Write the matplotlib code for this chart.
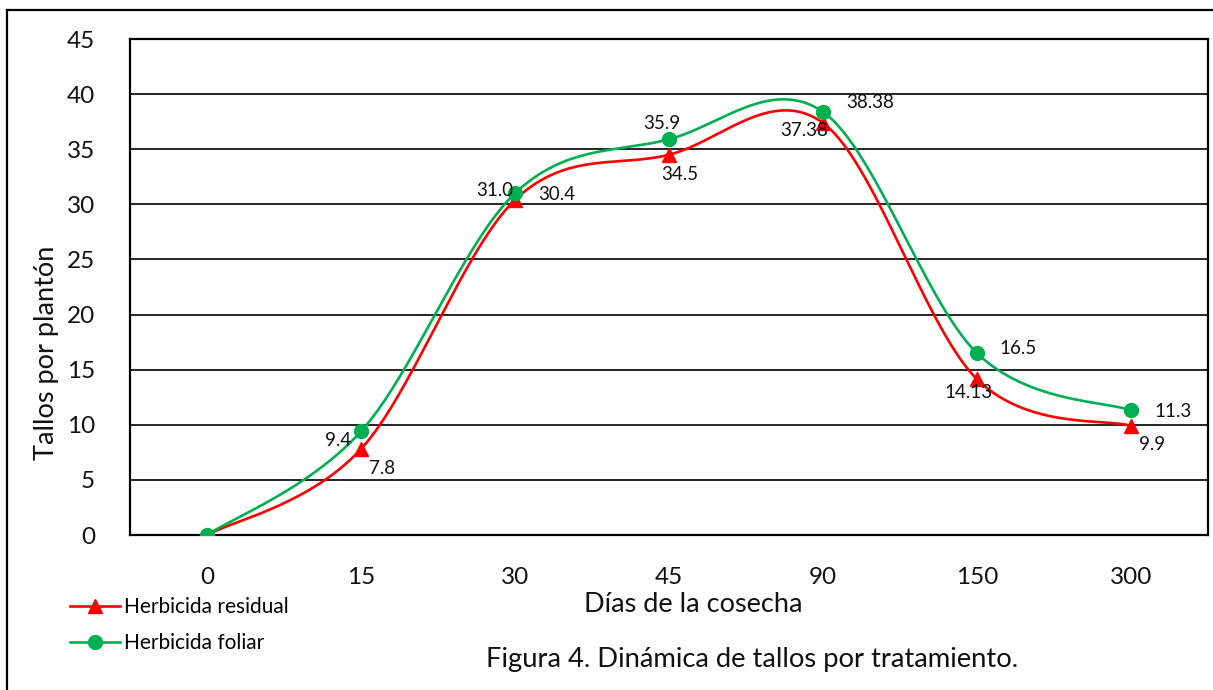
import numpy as np
import matplotlib
matplotlib.use("Agg")
import matplotlib.pyplot as plt
from matplotlib.lines import Line2D

plt.rcParams['font.family'] = ['Lato', 'DejaVu Sans']

categories = ["0", "15", "30", "45", "90", "150", "300"]
residual = [0, 7.8, 30.4, 34.5, 37.38, 14.13, 9.9]
foliar = [0, 9.4, 31.0, 35.9, 38.38, 16.5, 11.3]
residual_labels = ["", "7.8", "30.4", "34.5", "37.38", "14.13", "9.9"]
foliar_labels = ["", "9.4", "31.0", "35.9", "38.38", "16.5", "11.3"]
# label offsets in pixels (dx, dy)
residual_off = [(0, 0), (21, -19), (42, 5), (11, -20), (-19, -8), (-8, -13), (21, -19)]
foliar_off = [(0, 0), (-23, -9), (-20, 3), (-7, 16), (47, 9), (41, 5), (42, -1)]

RED = "#FF0000"
GREEN = "#00B050"


def smooth(xs, ys, n=60):
    xs = np.asarray(xs, float)
    ys = np.asarray(ys, float)
    P = np.column_stack([xs, ys])
    Pext = np.vstack([P[0], P, P[-1]])
    out = []
    t = np.linspace(0, 1, n)[:, None]
    for i in range(len(P) - 1):
        p0 = Pext[i + 1]
        p3 = Pext[i + 2]
        c1 = p0 + (Pext[i + 2] - Pext[i]) / 6.0
        c2 = p3 - (Pext[i + 3] - Pext[i + 1]) / 6.0
        seg = ((1 - t) ** 3) * p0 + 3 * ((1 - t) ** 2) * t * c1 + 3 * (1 - t) * t ** 2 * c2 + t ** 3 * p3
        out.append(seg if i == 0 else seg[1:])
    out = np.vstack(out)
    return out[:, 0], out[:, 1]


W, H = 1213, 690
fig = plt.figure(figsize=(W / 100, H / 100), dpi=100)
ax = fig.add_axes([130 / W, 1 - 535 / H, (1208 - 130) / W, (535 - 39) / H])

x = np.arange(len(categories))
for vals, col, mk, ms in [(residual, RED, '^', 10), (foliar, GREEN, 'o', 10)]:
    sx, sy = smooth(x, vals)
    ax.plot(sx, sy, color=col, lw=1.9, zorder=3, solid_capstyle='round')
    ax.plot(x, vals, linestyle='none', marker=mk, color=col, markersize=ms, zorder=4)

for vals, labs, offs in [(residual, residual_labels, residual_off), (foliar, foliar_labels, foliar_off)]:
    for xi, v, lab, (dx, dy) in zip(x, vals, labs, offs):
        if lab:
            ax.annotate(lab, (xi, v), xytext=(dx, dy), textcoords='offset pixels',
                        ha='center', va='center', fontsize=13.5, color='#111111', zorder=5)

ax.set_xlim(-0.5, len(categories) - 0.5)
ax.set_ylim(0, 45)
ax.set_yticks(np.arange(0, 46, 5))
ax.set_xticks(x)
ax.set_xticklabels(categories)
ax.grid(axis='y', color='black', lw=1.2)
ax.set_axisbelow(True)
for s in ax.spines.values():
    s.set_linewidth(1.6)
    s.set_color('black')
ax.tick_params(axis='both', length=0, labelsize=17.5, colors='#111111')
ax.tick_params(axis='y', pad=25)
ax.tick_params(axis='x', pad=23)

fig.text(47 / W, 1 - 353 / H, "Tallos por plantón", rotation=90, ha='center', va='center', fontsize=19.5, color='#111111')
fig.text(693 / W, 1 - 605 / H, "Días de la cosecha", ha='center', va='center', fontsize=19.5, color='#111111')
fig.text(752 / W, 1 - 660 / H, "Figura 4. Dinámica de tallos por tratamiento.", ha='center', va='center', fontsize=19.7, color='#111111')

handles = [Line2D([], [], color=RED, lw=1.9, marker='^', markersize=10),
           Line2D([], [], color=GREEN, lw=1.9, marker='o', markersize=10)]
fig.legend(handles, ["Herbicida residual", "Herbicida foliar"], loc='center left',
           bbox_to_anchor=(62 / W, 1 - 625 / H), frameon=False, fontsize=15,
           handlelength=2.4, handletextpad=0.2, labelspacing=0.75, borderaxespad=0)

# outer frame
fig.add_artist(Line2D([7 / W, 7 / W], [0, 1 - 10 / H], color='black', lw=1.6, transform=fig.transFigure))
fig.add_artist(Line2D([7 / W, 1], [1 - 10 / H, 1 - 10 / H], color='black', lw=1.6, transform=fig.transFigure))

fig.savefig("out.png", dpi=100)
